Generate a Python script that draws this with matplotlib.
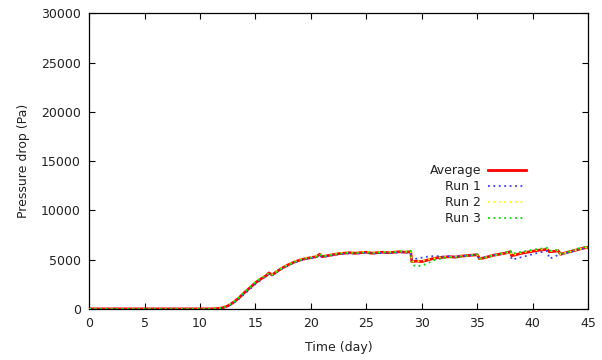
import matplotlib
matplotlib.use("Agg")
import matplotlib.pyplot as plt

# time axis shared by all series (days)
days = [0, 5, 10, 11, 11.5, 12, 12.5, 13, 13.5, 14,
        14.5, 15, 15.5, 16, 16.2, 16.5, 17, 17.5, 18, 18.5,
        19, 19.5, 20, 20.5, 20.8, 21, 21.5, 22, 22.5, 23,
        23.5, 24, 24.5, 25, 25.5, 26, 26.5, 27, 27.5, 28,
        28.5, 29, 29.1, 29.5, 30, 30.5, 31, 31.5, 32, 32.5,
        33, 33.5, 34, 34.5, 35, 35.2, 35.5, 36, 36.5, 37,
        37.5, 38, 38.1, 38.5, 39, 39.5, 40, 40.5, 41, 41.3,
        41.5, 42, 42.3, 42.5, 43, 43.5, 44, 44.5, 45]

average = [0, 0, 0, 0, 20, 100, 300, 650, 1100, 1650,
           2150, 2650, 3050, 3400, 3650, 3450, 3850, 4200, 4500, 4750,
           4950, 5100, 5200, 5300, 5550, 5300, 5400, 5500, 5600, 5650,
           5700, 5650, 5700, 5750, 5650, 5700, 5750, 5700, 5750, 5800,
           5750, 5800, 4800, 4850, 4800, 4950, 5100, 5200, 5250, 5300,
           5250, 5350, 5400, 5450, 5500, 5100, 5150, 5300, 5450, 5550,
           5650, 5800, 5400, 5500, 5650, 5750, 5850, 5950, 6000, 6050,
           5800, 5850, 5900, 5550, 5700, 5850, 6000, 6150, 6250]

run1 = [0, 0, 0, 0, 10, 80, 250, 580, 1000, 1500,
        2000, 2500, 2950, 3350, 3550, 3400, 3800, 4150, 4450, 4700,
        4900, 5050, 5150, 5250, 5500, 5250, 5350, 5450, 5550, 5600,
        5650, 5600, 5650, 5700, 5600, 5650, 5700, 5650, 5700, 5750,
        5700, 5750, 4950, 5100, 5200, 5300, 5350, 5350, 5300, 5350,
        5300, 5350, 5400, 5450, 5500, 5150, 5200, 5300, 5450, 5550,
        5650, 5750, 5000, 5100, 5250, 5400, 5550, 5700, 5800, 5900,
        5100, 5300, 5500, 5500, 5650, 5800, 5950, 6100, 6200]

run2 = [0, 0, 0, 0, 30, 120, 350, 720, 1200, 1750,
        2250, 2750, 3150, 3450, 3700, 3500, 3900, 4250, 4550, 4800,
        5000, 5150, 5250, 5350, 5600, 5350, 5450, 5550, 5650, 5700,
        5750, 5700, 5750, 5800, 5700, 5750, 5800, 5750, 5800, 5850,
        5800, 5850, 4800, 4850, 4850, 5000, 5100, 5200, 5250, 5300,
        5250, 5350, 5400, 5450, 5500, 5100, 5150, 5300, 5450, 5550,
        5650, 5800, 5450, 5550, 5700, 5800, 5900, 6000, 6050, 6100,
        5850, 5900, 5950, 5550, 5700, 5850, 6000, 6150, 6250]

run3 = [0, 0, 0, 0, 20, 110, 310, 660, 1120, 1680,
        2200, 2700, 3100, 3400, 3700, 3450, 3850, 4200, 4500, 4750,
        4950, 5100, 5200, 5300, 5550, 5300, 5400, 5500, 5600, 5650,
        5700, 5650, 5700, 5750, 5650, 5700, 5750, 5700, 5750, 5850,
        5800, 5900, 4500, 4300, 4400, 4600, 4900, 5050, 5150, 5250,
        5200, 5300, 5400, 5450, 5550, 5100, 5150, 5300, 5450, 5600,
        5700, 5900, 5600, 5700, 5800, 5900, 6000, 6100, 6150, 6200,
        5900, 5950, 6000, 5500, 5700, 5900, 6100, 6250, 6350]

plt.rcParams["font.family"] = "DejaVu Sans"
plt.rcParams["font.size"] = 9

fig = plt.figure(figsize=(6.02, 3.6), dpi=100)
ax = fig.add_axes([0.148, 0.142, 0.829, 0.821])

ax.plot(days, average, color="#ff0000", lw=2.0, label="Average", zorder=2)
ax.plot(days, run1, color="#3c3cff", lw=1.3, ls=(0, (1, 2)), label="Run 1", zorder=3)
ax.plot(days, run2, color="#ffff00", lw=1.3, ls=(0, (1, 2)), label="Run 2", zorder=3)
ax.plot(days, run3, color="#00e000", lw=1.3, ls=(0, (1, 2)), label="Run 3", zorder=3)

ax.set_xlim(0, 45)
ax.set_ylim(0, 30000)
ax.set_xticks(range(0, 46, 5))
ax.set_yticks(range(0, 30001, 5000))
ax.tick_params(direction="in", length=4.5, width=0.8, top=True, right=True,
               pad=6, colors="black", labelcolor="#222222")
for s in ax.spines.values():
    s.set_linewidth(0.9)

ax.set_xlabel("Time (day)", color="#222222", labelpad=8)
ax.set_ylabel("Pressure drop (Pa)", color="#222222", labelpad=8)

leg = ax.legend(loc="upper left", bbox_to_anchor=(0.672, 0.507), frameon=False,
                markerfirst=False, handlelength=3.0, handletextpad=0.6,
                labelspacing=0.25, borderaxespad=0)
for t in leg.get_texts():
    t.set_color("#222222")

fig.savefig("out.png", dpi=100)
